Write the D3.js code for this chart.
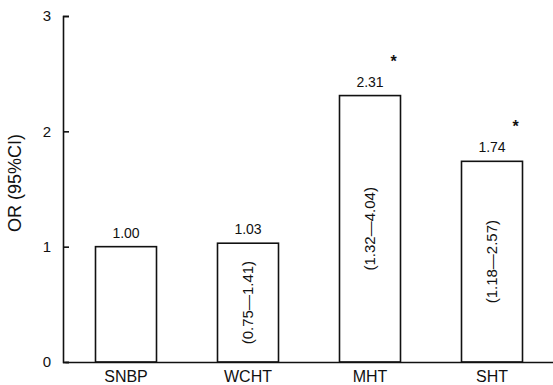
<!DOCTYPE html>
<html>
<head>
<meta charset="utf-8">
<script src="https://cdn.jsdelivr.net/npm/d3@7"></script>
<style>
  body { margin: 0; background: #fff; }
  text { font-family: "Liberation Sans", Arial, sans-serif; fill: #111; }
</style>
</head>
<body>
<div id="chart"></div>
<script>
// groups, odds ratios, confidence intervals and significance
let groups = ["SNBP", "WCHT", "MHT", "SHT"];
let orValues = [1.00, 1.03, 2.31, 1.74];
let orLabels = ["1.00", "1.03", "2.31", "1.74"];
let ciLabels = ["", "(0.75\u20141.41)", "(1.32\u20144.04)", "(1.18\u20142.57)"];
let significant = [false, false, true, true];
let yTicks = [0, 1, 2, 3];

let w = 553, h = 385;
let margin = {top: 16, right: 0, bottom: 23, left: 63},
    width = w - margin.left - margin.right,
    height = h - margin.top - margin.bottom;

let svg = d3.select("#chart").append("svg")
    .attr("width", w)
    .attr("height", h);

let g = svg.append("g")
    .attr("transform", "translate(" + margin.left + "," + margin.top + ")");

let xScale = d3.scaleBand().domain(groups).range([2, width]).paddingInner(0.5).paddingOuter(0.25);
let yScale = d3.scaleLinear().domain([0, 3]).range([height, 0]);

// bars
g.selectAll("rect.bar")
    .data(groups)
    .enter().append("rect")
    .attr("class", "bar")
    .attr("x", function (d) { return xScale(d); })
    .attr("y", function (d, i) { return yScale(orValues[i]); })
    .attr("width", xScale.bandwidth())
    .attr("height", function (d, i) { return height - yScale(orValues[i]); })
    .style("fill", "#fff")
    .style("stroke", "#111")
    .style("stroke-width", 1.6);

// OR value above each bar
g.selectAll("text.val")
    .data(groups)
    .enter().append("text")
    .attr("class", "val")
    .attr("x", function (d) { return xScale(d) + xScale.bandwidth() / 2; })
    .attr("y", function (d, i) { return yScale(orValues[i]) - 9; })
    .style("text-anchor", "middle")
    .style("font-size", "14px")
    .text(function (d, i) { return orLabels[i]; });

// CI inside the bars, rotated
g.selectAll("text.ci")
    .data(groups)
    .enter().append("text")
    .attr("class", "ci")
    .attr("transform", function (d, i) {
        let cx = xScale(d) + xScale.bandwidth() / 2;
        let cy = (yScale(orValues[i]) + height) / 2;
        return "translate(" + cx + "," + cy + ") rotate(-90)";
    })
    .attr("dy", "0.35em")
    .style("text-anchor", "middle")
    .style("font-size", "15px")
    .text(function (d, i) { return ciLabels[i]; });

// significance stars
g.selectAll("text.star")
    .data(groups.filter(function (d, i) { return significant[i]; }))
    .enter().append("text")
    .attr("class", "star")
    .attr("x", function (d) { return xScale(d) + xScale.bandwidth() - 7; })
    .attr("y", function (d) { return yScale(orValues[groups.indexOf(d)]) - 29; })
    .style("text-anchor", "middle")
    .style("font-size", "16px")
    .style("font-weight", "bold")
    .text("*");

// y axis
let yAx = g.append("g")
    .call(d3.axisLeft(yScale).tickValues(yTicks).tickFormat(d3.format("d")).tickSize(-6).tickPadding(12));
yAx.select(".domain").attr("stroke", "#111").attr("stroke-width", 1.6);
yAx.selectAll(".tick line").attr("stroke", "#111").attr("stroke-width", 1.6);
yAx.selectAll(".tick text").style("font-size", "15px").style("font-family", "Liberation Sans, Arial, sans-serif").attr("fill", "#111");

// x axis
let xAx = g.append("g")
    .attr("transform", "translate(0," + height + ")")
    .call(d3.axisBottom(xScale).tickSize(0).tickPadding(9));
xAx.select(".domain").attr("stroke", "#111").attr("stroke-width", 1.6);
xAx.selectAll(".tick text").style("font-size", "16px").style("font-family", "Liberation Sans, Arial, sans-serif").attr("fill", "#111");

// y axis title
g.append("text")
    .attr("transform", "rotate(-90)")
    .attr("y", 0 - margin.left + 21)
    .attr("x", 0 - 167)
    .style("text-anchor", "middle")
    .style("font-size", "18px")
    .text("OR (95%CI)");
</script>
</body>
</html>
